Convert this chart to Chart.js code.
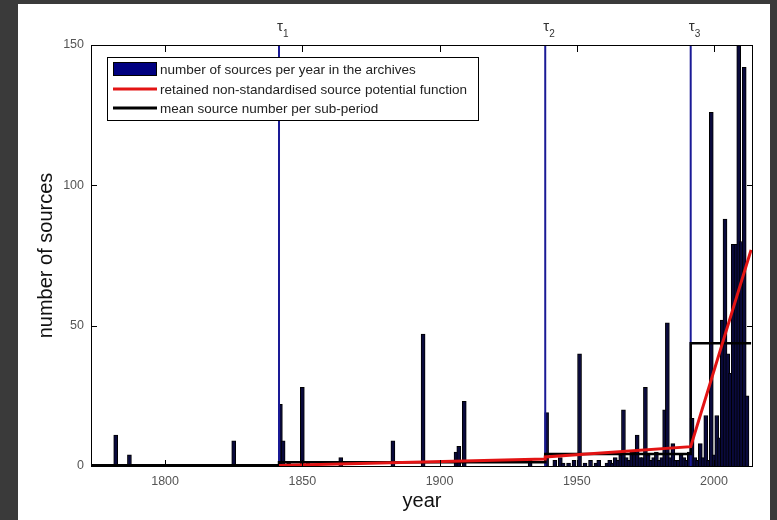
<!DOCTYPE html>
<html>
<head>
<meta charset="utf-8">
<script src="https://cdn.jsdelivr.net/npm/chart.js@4"></script>
<style>
  html, body { margin: 0; padding: 0; background: #3a3a3a; width: 777px; height: 520px; overflow: hidden; }
  #frame { position: absolute; left: 18px; top: 4px; width: 752px; height: 516px; background: #ffffff; }
</style>
</head>
<body>
<div id="frame"><canvas id="sources"></canvas></div>
<script>
// sources per year in the archives
const years = [1782, 1787, 1825,
    1842, 1843, 1845, 1850, 1852, 1864, 1883, 1894, 1906, 1907, 1909, 1933,
    1939, 1942, 1944, 1945, 1947, 1949, 1951, 1953, 1955, 1957, 1958, 1961, 1962, 1963, 1964, 1965,
    1966, 1967, 1968, 1969, 1970, 1971, 1972, 1973, 1974, 1975, 1976, 1977, 1978, 1979, 1980,
    1981, 1982, 1983, 1984, 1985, 1986, 1987, 1988, 1989, 1990, 1991,
    1992, 1993, 1994, 1995, 1996, 1997, 1998, 1999, 2000, 2001, 2002, 2003, 2004, 2005,
    2006, 2007, 2008, 2009, 2010, 2011, 2012]
const counts = [11, 4, 9,
    22, 9, 1, 28, 1, 3, 9, 47, 5, 7, 23, 2,
    19, 2, 3, 1, 1, 2, 40, 1, 2, 1, 2, 1, 2, 1, 3, 2,
    4, 20, 3, 2, 5, 5, 11, 3, 3, 28, 4, 2, 3, 5, 2,
    3, 20, 51, 3, 8, 2, 2, 4, 3, 2, 5,
    17, 3, 2, 8, 3, 18, 2, 126, 4, 18, 10, 52, 88, 40,
    33, 79, 79, 150, 80, 142, 25]

// change points
const tauYears = [1841.5, 1938.5, 1991.5]
const tauNames = ['1', '2', '3']

// potential function (red)
const potentialYears = [1841.5, 1938.5, 1938.5, 1991.5, 2013.5]
const potentialValues = [0.2, 2.5, 3.2, 6.9, 77]

// mean per sub-period (black)
const meanYears = [1773, 1841.5, 1841.5, 1938.5, 1938.5, 1991.5, 1991.5, 2013.5]
const meanValues = [0.3, 0.3, 1.3, 1.3, 4.3, 4.3, 43.7, 43.7]

const xTicks = [1800, 1850, 1900, 1950, 2000]
const yTicks = [0, 50, 100, 150]

const police = "'Liberation Sans', Arial, sans-serif"
const couleurLegendeBarres = '#000080'

let tauDatasets = tauYears.map(t => ({
    type: 'line',
    label: 'tau',
    data: [{ x: t, y: 0 }, { x: t, y: 150 }],
    borderColor: '#1a1a96',
    borderWidth: 2,
    pointRadius: 0,
    order: 2
}))

// cadre, graduations vers l'intérieur, étiquettes tau et légende
const decor = {
    id: 'decor',
    afterDatasetsDraw(chart) {
        const ctx = chart.ctx
        const a = chart.chartArea
        const xs = chart.scales.x
        const ys = chart.scales.y
        ctx.save()
        ctx.strokeStyle = '#000'
        ctx.lineWidth = 1
        ctx.strokeRect(a.left + 0.5, a.top + 0.5, a.right - a.left - 1, a.bottom - a.top)
        ctx.beginPath()
        xTicks.forEach(v => {
            const px = Math.round(xs.getPixelForValue(v)) + 0.5
            ctx.moveTo(px, a.bottom); ctx.lineTo(px, a.bottom - 6)
            ctx.moveTo(px, a.top); ctx.lineTo(px, a.top + 7)
        })
        yTicks.forEach(v => {
            const py = Math.round(ys.getPixelForValue(v)) + 0.5
            ctx.moveTo(a.left, py); ctx.lineTo(a.left + 6, py)
            ctx.moveTo(a.right, py); ctx.lineTo(a.right - 6, py)
        })
        ctx.stroke()

        // tau labels
        ctx.fillStyle = '#333'
        ctx.textBaseline = 'alphabetic'
        tauYears.forEach((t, i) => {
            const px = xs.getPixelForValue(t)
            ctx.font = '15px ' + police
            ctx.textAlign = 'center'
            ctx.fillText('τ', px + 1, 27)
            ctx.font = '10px ' + police
            ctx.textAlign = 'left'
            ctx.fillText(tauNames[i], px + 4, 33)
        })

        // legend
        const lx = 89, ly = 53, lw = 371, lh = 63
        ctx.fillStyle = '#fff'
        ctx.fillRect(lx, ly, lw, lh)
        ctx.strokeStyle = '#000'
        ctx.strokeRect(lx + 0.5, ly + 0.5, lw, lh)
        const entries = chart.data.datasets.slice(0, 3)
        const rows = [65, 85, 104]
        ctx.font = '13.5px ' + police
        ctx.textAlign = 'left'
        ctx.textBaseline = 'middle'
        entries.forEach((d, i) => {
            if (i === 0) {
                ctx.fillStyle = couleurLegendeBarres
                ctx.fillRect(95, rows[i] - 7, 44, 14)
                ctx.strokeStyle = '#000'
                ctx.strokeRect(95.5, rows[i] - 6.5, 43, 13)
            } else {
                ctx.strokeStyle = d.borderColor
                ctx.lineWidth = 3
                ctx.beginPath()
                ctx.moveTo(95, rows[i]); ctx.lineTo(139, rows[i])
                ctx.stroke()
                ctx.lineWidth = 1
            }
            ctx.fillStyle = '#222'
            ctx.fillText(d.label, 142, rows[i] + 1)
        })
        ctx.restore()
    }
}

new Chart(
    document.getElementById('sources'),
    {
        type: 'bar',
        data: {
            datasets: [
                {
                    type: 'bar',
                    label: 'number of sources per year in the archives',
                    data: years.map((y, i) => ({ x: y, y: counts[i] })),
                    backgroundColor: '#0a0a3c',
                    borderColor: '#000000',
                    borderWidth: 1,
                    barThickness: 4,
                    order: 3
                },
                {
                    type: 'line',
                    label: 'retained non-standardised source potential function',
                    data: potentialYears.map((y, i) => ({ x: y, y: potentialValues[i] })),
                    borderColor: '#e31414',
                    borderWidth: 3,
                    pointRadius: 0,
                    order: 0
                },
                {
                    type: 'line',
                    label: 'mean source number per sub-period',
                    data: meanYears.map((y, i) => ({ x: y, y: meanValues[i] })),
                    borderColor: '#000000',
                    borderWidth: 2.5,
                    pointRadius: 0,
                    order: 1
                },
                ...tauDatasets
            ]
        },
        options: {
            responsive: true,
            maintainAspectRatio: false,
            animation: false,
            layout: { padding: { top: 41, right: 17, left: 0, bottom: 0 } },
            scales: {
                x: {
                    type: 'linear',
                    min: 1773,
                    max: 2014.2,
                    offset: false,
                    afterBuildTicks: s => { s.ticks = xTicks.map(v => ({ value: v })) },
                    afterFit: s => { s.height = 54 },
                    grid: { display: false, drawTicks: false },
                    border: { display: false },
                    ticks: {
                        color: '#555',
                        padding: 8,
                        maxRotation: 0,
                        callback: v => String(v),
                        font: { family: police, size: 12.5 }
                    },
                    title: {
                        display: true,
                        text: 'year',
                        color: '#111',
                        padding: { top: 0, bottom: 7 },
                        font: { family: police, size: 20 }
                    }
                },
                y: {
                    min: 0,
                    max: 150,
                    afterBuildTicks: s => { s.ticks = yTicks.map(v => ({ value: v })) },
                    afterFit: s => { s.width = 73 },
                    grid: { display: false, drawTicks: false },
                    border: { display: false },
                    ticks: {
                        color: '#555',
                        padding: 7,
                        callback: v => String(v),
                        font: { family: police, size: 12.5 }
                    },
                    title: {
                        display: true,
                        text: 'number of sources',
                        color: '#111',
                        padding: { top: 16, bottom: 0 },
                        font: { family: police, size: 20 }
                    }
                }
            },
            plugins: {
                legend: { display: false },
                tooltip: { enabled: false }
            }
        },
        plugins: [decor]
    }
);
</script>
</body>
</html>
